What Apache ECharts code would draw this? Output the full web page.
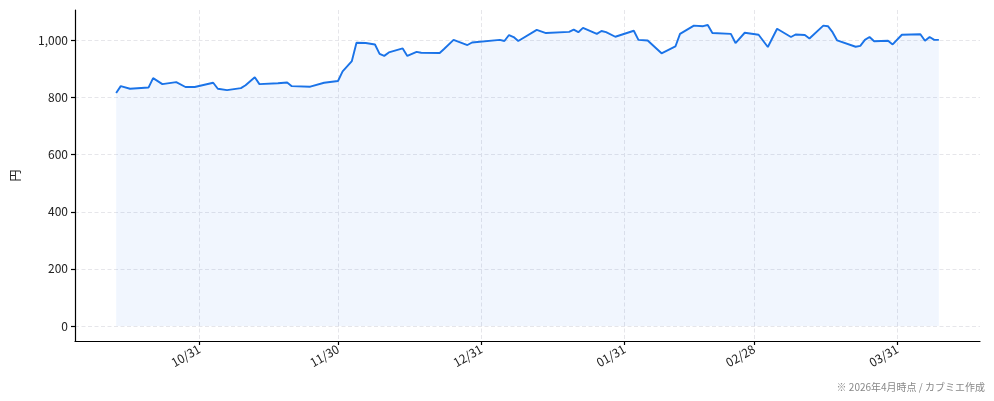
<!DOCTYPE html>
<html lang="ja">
<head>
  <meta charset="UTF-8">
  <title>株価推移</title>
  <script src="https://cdn.jsdelivr.net/npm/echarts@6/dist/echarts.min.js"></script>
  <style>
    html, body { margin: 0; padding: 0; background: #fff; }
    #chart { width: 994px; height: 401px; }
  </style>
</head>
<body>
  <div id="chart"></div>
  <script>
    // 終値（円）
    const dates = [
      '2025-10-13', '2025-10-14', '2025-10-16', '2025-10-20', '2025-10-21', '2025-10-23',
      '2025-10-26', '2025-10-28', '2025-10-30', '2025-11-03', '2025-11-04', '2025-11-06',
      '2025-11-09', '2025-11-10', '2025-11-12', '2025-11-13', '2025-11-17', '2025-11-19',
      '2025-11-20', '2025-11-24', '2025-11-27', '2025-11-30', '2025-12-01', '2025-12-03',
      '2025-12-04', '2025-12-06', '2025-12-08', '2025-12-09', '2025-12-10', '2025-12-11',
      '2025-12-14', '2025-12-15', '2025-12-17', '2025-12-18', '2025-12-22', '2025-12-23',
      '2025-12-25', '2025-12-28', '2025-12-29', '2026-01-04', '2026-01-05', '2026-01-06',
      '2026-01-07', '2026-01-08', '2026-01-12', '2026-01-14', '2026-01-19', '2026-01-20',
      '2026-01-21', '2026-01-22', '2026-01-25', '2026-01-26', '2026-01-27', '2026-01-29',
      '2026-02-02', '2026-02-03', '2026-02-05', '2026-02-08', '2026-02-11', '2026-02-12',
      '2026-02-15', '2026-02-17', '2026-02-18', '2026-02-19', '2026-02-23', '2026-02-24',
      '2026-02-26', '2026-03-01', '2026-03-03', '2026-03-05', '2026-03-08', '2026-03-09',
      '2026-03-11', '2026-03-12', '2026-03-15', '2026-03-16', '2026-03-17', '2026-03-18',
      '2026-03-22', '2026-03-23', '2026-03-24', '2026-03-25', '2026-03-26', '2026-03-29',
      '2026-03-30', '2026-04-01', '2026-04-05', '2026-04-06', '2026-04-07', '2026-04-08',
      '2026-04-09'
    ];
    const prices = [
      816, 840, 831, 835, 868, 847,
      854, 837, 837, 852, 831, 826,
      833, 843, 871, 847, 850, 853,
      840, 838, 852, 858, 892, 928,
      992, 991, 986, 953, 946, 958,
      972, 946, 960, 957, 956, 971,
      1002, 984, 993, 1002, 998, 1019,
      1012, 998, 1037, 1026, 1030, 1038,
      1029, 1044, 1023, 1033, 1029, 1013,
      1034, 1002, 1000, 955, 979, 1023,
      1052, 1050, 1054, 1026, 1023, 991,
      1027, 1020, 977, 1041, 1012, 1021,
      1019, 1007, 1052, 1050, 1029, 1000,
      978, 981, 1002, 1012, 997, 999,
      986, 1020, 1022, 999, 1012, 1002,
      1002
    ];
    const xTicks = ['2025-10-31', '2025-11-30', '2025-12-31', '2026-01-31', '2026-02-28', '2026-03-31'];
    const yTicks = [0, 200, 400, 600, 800, 1000];

    const times = dates.map(d => new Date(d).getTime());
    const xTickTimes = xTicks.map(d => new Date(d).getTime());

    // matplotlib風の5%余白
    const xPad = (times[times.length - 1] - times[0]) * 0.05;
    const yMax = Math.max(...prices);
    const yPad = yMax * 0.05;

    const pad2 = n => (n < 10 ? '0' : '') + n;
    const fmtDate = v => {
      const d = new Date(v);
      return pad2(d.getUTCMonth() + 1) + '/' + pad2(d.getUTCDate());
    };

    const gridLine = { show: true, lineStyle: { color: '#e6e6ea', type: [4, 2.5], width: 1 } };

    const chart = echarts.init(document.getElementById('chart'));
    chart.setOption({
      animation: false,
      textStyle: { fontFamily: 'Noto Sans CJK JP' },
      grid: { left: 75, right: 14, top: 10, bottom: 60 },
      xAxis: {
        type: 'value',
        min: times[0] - xPad,
        max: times[times.length - 1] + xPad,
        axisLine: { onZero: false, lineStyle: { color: '#000', width: 1.2 } },
        axisTick: { show: true, length: 4, customValues: xTickTimes, lineStyle: { color: '#000', width: 1.2 } },
        axisLabel: {
          customValues: xTickTimes,
          formatter: fmtDate,
          rotate: 30,
          color: '#222',
          fontSize: 12,
          margin: 7
        },
        splitLine: gridLine
      },
      yAxis: {
        type: 'value',
        min: -yPad,
        max: yMax + yPad,
        name: '円',
        nameLocation: 'middle',
        nameRotate: 90,
        nameGap: 54,
        nameTextStyle: { color: '#222', fontSize: 12 },
        axisLine: { show: true, onZero: false, lineStyle: { color: '#000', width: 1.2 } },
        axisTick: { show: true, length: 4, customValues: yTicks, lineStyle: { color: '#000', width: 1.2 } },
        axisLabel: {
          customValues: yTicks,
          formatter: v => v.toLocaleString('en-US'),
          color: '#222',
          fontSize: 12,
          margin: 7
        },
        splitLine: gridLine
      },
      series: [{
        type: 'line',
        data: times.map((t, i) => [t, prices[i]]),
        showSymbol: false,
        symbol: 'none',
        lineStyle: { color: '#1a73e8', width: 1.9 },
        areaStyle: { color: 'rgba(26, 115, 232, 0.09)', origin: 0 }
      }],
      graphic: [{
        type: 'text',
        right: 9,
        bottom: 9,
        style: {
          text: '※ 2026年4月時点 / カブミエ作成',
          fill: '#888',
          font: '10px "Noto Sans CJK JP"'
        }
      }]
    });
  </script>
</body>
</html>
